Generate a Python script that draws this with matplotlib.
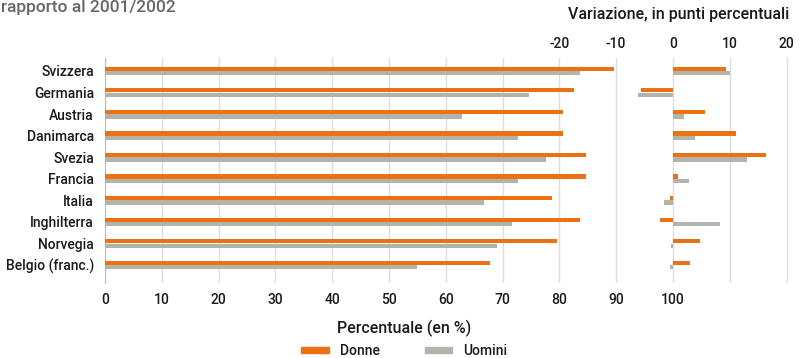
import numpy as np
import matplotlib.pyplot as plt
from matplotlib.patches import Patch

plt.rcParams['font.family'] = ['Roboto', 'DejaVu Sans']
plt.rcParams['font.weight'] = 'medium'

paesi = ['Svizzera', 'Germania', 'Austria', 'Danimarca', 'Svezia',
         'Francia', 'Italia', 'Inghilterra', 'Norvegia', 'Belgio (franc.)']
donne = [89.6, 82.6, 80.6, 80.6, 84.6, 84.6, 78.7, 83.6, 79.6, 67.7]
uomini = [83.6, 74.7, 62.8, 72.7, 77.7, 72.7, 66.8, 71.7, 69.0, 55.0]
# variazione in punti percentuali
var_donne = [9.4, -5.7, 5.6, 11.1, 16.3, 0.9, -0.5, -2.3, 4.7, 3.0]
var_uomini = [10.1, -6.2, 2.0, 3.8, 13.0, 2.8, -1.6, 8.2, -0.4, -0.5]

arancio = '#ec7014'
grigio = '#b3b3aa'
testo = '#1a1a1a'

fig = plt.figure(figsize=(8.09, 3.58), dpi=100)
ax = fig.add_axes([0.1298, 0.21, 0.8565, 0.628])

y = np.arange(len(paesi))
h = 0.2
# percentuale
ax.barh(y - 0.1, donne, height=h, color=arancio, zorder=3)
ax.barh(y + 0.11, uomini, height=h, color=grigio, zorder=3)
# variazione, disegnata con lo zero a 100
ax.barh(y - 0.1, var_donne, left=100, height=h, color=arancio, zorder=3)
ax.barh(y + 0.11, var_uomini, left=100, height=h, color=grigio, zorder=3)

ax.set_xlim(0, 122)
ax.set_ylim(9.83, -0.6)
ax.set_yticks(y)
ax.set_yticklabels(paesi, fontsize=10, color=testo)
xt = list(range(0, 130, 10))
ax.set_xticks(xt)
ax.set_xticklabels([str(v) if v <= 100 else '' for v in xt], fontsize=10, color=testo)
ax.tick_params(length=0, pad=7)
ax.tick_params(axis='y', pad=8)
ax.grid(axis='x', color='#dddddd', linewidth=1, zorder=0)
for s in ['top', 'right', 'bottom']:
    ax.spines[s].set_visible(False)
ax.spines['left'].set_color('#bbbbbb')

top = ax.secondary_xaxis('top', functions=(lambda x: x - 100, lambda x: x + 100))
top.set_xticks([-20, -10, 0, 10, 20])
top.set_xticklabels(['-20', '-10', '0', '10', '20'], fontsize=10, color=testo)
top.tick_params(length=0, pad=5)
top.spines['top'].set_visible(False)

fig.text(0.001, 0.978, 'rapporto al 2001/2002', fontsize=12.5, color='#666666', va='center', ha='left')
fig.text(0.975, 0.96, 'Variazione, in punti percentuali', fontsize=11.5, color=testo, va='center', ha='right')
fig.text(0.5, 0.083, 'Percentuale (en %)', fontsize=11.5, color=testo, va='center', ha='center')

handles = [Patch(color=arancio, label='Donne'), Patch(color=grigio, label='Uomini')]
fig.legend(handles=handles, loc='center', bbox_to_anchor=(0.5, 0.02), ncol=2, frameon=False,
           fontsize=10, handlelength=2.0, handleheight=0.3, columnspacing=3.2, labelcolor=testo)

fig.savefig('out.png', dpi=100)
